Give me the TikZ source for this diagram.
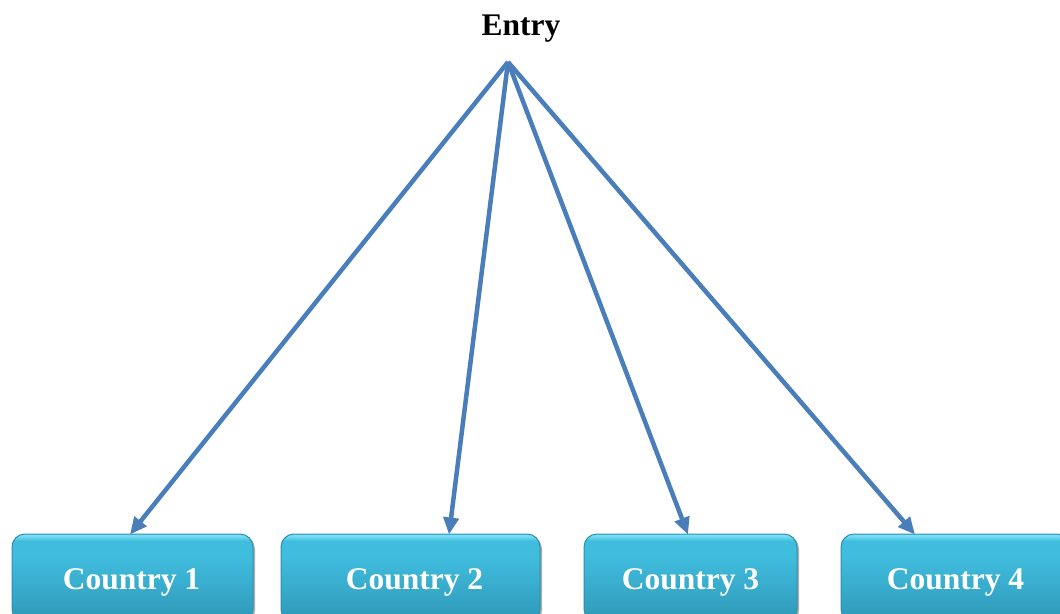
\documentclass[tikz,border=0pt]{standalone}
\usepackage{fontspec}
\setmainfont{Liberation Serif}
\usetikzlibrary{arrows.meta,shadows}
\definecolor{arrowblue}{HTML}{4A7EBB}
\definecolor{boxtop}{HTML}{7ADDF4}
\definecolor{boxmid}{HTML}{40BCDD}
\definecolor{boxbot}{HTML}{2F98B8}
\definecolor{boxline}{HTML}{2C8FAE}
\pgfdeclareverticalshading{boxshade}{100bp}{color(0bp)=(boxbot); color(25bp)=(boxbot); color(62bp)=(boxmid); color(71bp)=(boxmid); color(74bp)=(boxtop); color(100bp)=(boxtop)}
\tikzset{
  country/.style={draw=boxline, line width=1pt, rounded corners=13pt,
    shading=boxshade, minimum height=88pt, inner sep=0pt,
    drop shadow={opacity=0.45, shadow xshift=2pt, shadow yshift=-2pt, fill=black!70}},
  label text/.style={text=white, font=\bfseries\fontsize{31.5}{36}\selectfont},
  link/.style={draw=arrowblue, line width=4.5pt, -{Triangle[length=17pt,width=15pt]}},
  title/.style={font=\bfseries\fontsize{31.5}{36}\selectfont, text=black}
}
\begin{document}
\begin{tikzpicture}[x=1pt,y=-1pt]
\useasboundingbox (0,0) rectangle (1060,613);
\clip (0,0) rectangle (1060,613);
\node[title] (entry) at (521,29) {Entry};
\coordinate (top) at (508,62);
\node[country, minimum width=241pt] (c1) at (132.5,578) {};
\node[country, minimum width=259pt] (c2) at (410.5,578) {};
\node[country, minimum width=213pt] (c3) at (690.5,578) {};
\node[country, minimum width=229pt] (c4) at (955.5,578) {};
\node[label text] (l1) at ([xshift=-1pt,yshift=-4pt]c1.center) {Country 1};
\node[label text] (l2) at ([xshift=4pt,yshift=-4pt]c2.center) {Country 2};
\node[label text] (l3) at ([xshift=0pt,yshift=-4pt]c3.center) {Country 3};
\node[label text] (l4) at ([xshift=0pt,yshift=-4pt]c4.center) {Country 4};
\coordinate (t1) at ([xshift=-2.5pt,yshift=-1pt]c1.north);
\coordinate (t2) at ([xshift=38.5pt,yshift=-1pt]c2.north);
\coordinate (t3) at ([xshift=-2.5pt,yshift=-1pt]c3.north);
\coordinate (t4) at ([xshift=-40.5pt,yshift=-1pt]c4.north);
\draw[link] (top) -- (t1);
\draw[link] (top) -- (t2);
\draw[link] (top) -- (t3);
\draw[link] (top) -- (t4);
\end{tikzpicture}
\end{document}
